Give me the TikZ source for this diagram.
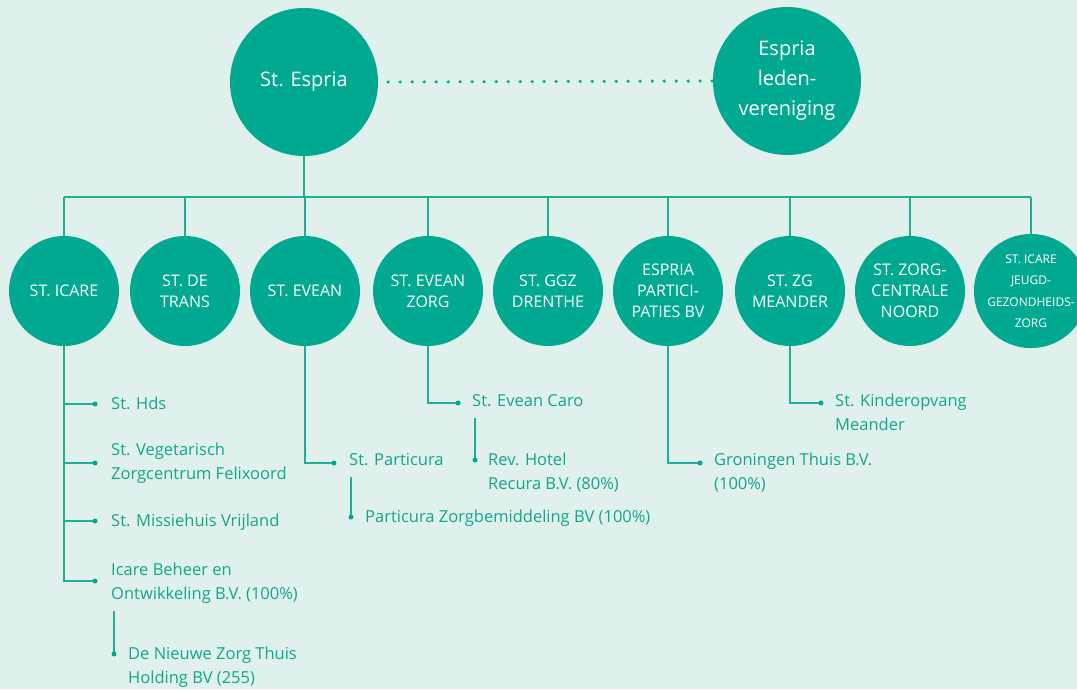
\documentclass[tikz,border=0pt]{standalone}
\usepackage{fontspec}
\setmainfont{Open Sans}
\definecolor{bg}{HTML}{DFF0ED}
\definecolor{tealc}{HTML}{00A990}
\definecolor{ln}{HTML}{1FAF95}
\definecolor{tx}{HTML}{12A68A}
\begin{document}
\begin{tikzpicture}[x=1pt,y=-1pt,
  big/.style={circle,fill=tealc,minimum size=148pt,inner sep=0pt,text=white,align=center,font=\fontsize{20}{30}\selectfont},
  org/.style={circle,fill=tealc,minimum size=110pt,inner sep=0pt,text=white,align=center,font=\fontsize{16}{21}\selectfont},
  orgsmall/.style={org,font=\fontsize{12}{21.5}\selectfont},
  sub/.style={anchor=base west,inner sep=0pt,text=tx,align=left,font=\fontsize{16.5}{24}\selectfont},
  link/.style={draw=ln,line width=1.3pt},
  dotted link/.style={draw=tealc,line width=3.5pt,line cap=round,dash pattern=on 0pt off 12pt},
  dotmark/.style={circle,fill=tealc,inner sep=0pt,minimum size=5pt}]
\useasboundingbox (0,0) rectangle (1077,689);
\clip (0,0) rectangle (1077,689);
\fill[bg] (0,0) rectangle (1077,689);

% top circles
\node[big] (esp) at (304,82) {St. Espria};
\node[big] (led) at (787,81) {Espria\\leden-\\vereniging};
\draw[dotted link] ([xshift=10pt]esp.east) -- ([xshift=-0.5pt]led.west);

% organisation circles
\node[org] (icare) at (64,291) {ST. ICARE};
\node[org] (trans) at (185,291) {ST. DE\\TRANS};
\node[org] (evean) at (305,291) {ST. EVEAN};
\node[org] (eveanz) at (428,291) {ST. EVEAN\\ZORG};
\node[org] (ggz) at (548,291) {ST. GGZ\\DRENTHE};
\node[org] (part) at (668,291) {ESPRIA\\PARTICI-\\PATIES BV};
\node[org] (zg) at (790,291) {ST. ZG\\MEANDER};
\node[org] (zcn) at (910,291) {ST. ZORG-\\CENTRALE\\NOORD};
\node[orgsmall] (jeugd) at (1031,291) {ST. ICARE\\JEUGD-\\GEZONDHEIDS-\\ZORG};

% bus
\coordinate (bus) at (305,197);
\draw[link] (esp.south) -- (esp.south |- bus);
\draw[link] (icare.north |- bus) -- (jeugd.north |- bus);
\foreach \n in {icare,trans,evean,eveanz,ggz,part,zg,zcn,jeugd}
  \draw[link] (\n.north) -- (\n.north |- bus);

% St. Icare subsidiaries
\coordinate (i1) at (95,404);
\coordinate (i2) at (95,463);
\coordinate (i3) at (95,521);
\coordinate (i4) at (95,581);
\foreach \c in {i1,i2,i3,i4} {
  \draw[link] (icare.south) |- (\c);
  \node[dotmark] at (\c) {};
}
\node[sub] (hds) at (111,409.5) {St. Hds};
\node[sub] (veg) at (111,479.5) {St. Vegetarisch\\Zorgcentrum Felixoord};
\node[sub] (mis) at (111,526.5) {St. Missiehuis Vrijland};
\node[sub] (beh) at (111,599.5) {Icare Beheer en\\Ontwikkeling B.V. (100\%)};
\coordinate (i5top) at (114,611);
\coordinate (i5) at (114,654);
\draw[link] (i5top) -- (i5);
\node[dotmark] at (i5) {};
\node[sub] (nzt) at (128,683.5) {De Nieuwe Zorg Thuis\\Holding BV (255)};

% St. Evean subsidiaries
\coordinate (e1) at (334,463);
\draw[link] (evean.south) |- (e1);
\node[dotmark] at (e1) {};
\node[sub] (parti) at (349,465.5) {St. Particura};
\coordinate (e2top) at (351,477);
\coordinate (e2) at (351,517);
\draw[link] (e2top) -- (e2);
\node[dotmark] at (e2) {};
\node[sub] (pzb) at (365,522.5) {Particura Zorgbemiddeling BV (100\%)};

% St. Evean Zorg subsidiaries
\coordinate (z1) at (458,403);
\draw[link] (eveanz.south) |- (z1);
\node[dotmark] at (z1) {};
\node[sub] (caro) at (472,406.5) {St. Evean Caro};
\coordinate (z2top) at (475,418);
\coordinate (z2) at (475,460);
\draw[link] (z2top) -- (z2);
\node[dotmark] at (z2) {};
\node[sub] (rev) at (488,489.5) {Rev. Hotel\\Recura B.V. (80\%)};

% Espria Participaties subsidiaries
\coordinate (p1) at (700,463);
\draw[link] (part.south) |- (p1);
\node[dotmark] at (p1) {};
\node[sub] (gron) at (714,489.5) {Groningen Thuis B.V.\\(100\%)};

% ZG Meander subsidiaries
\coordinate (m1) at (821,403);
\draw[link] (zg.south) |- (m1);
\node[dotmark] at (m1) {};
\node[sub] (kind) at (835,430.5) {St. Kinderopvang\\Meander};
\end{tikzpicture}
\end{document}
